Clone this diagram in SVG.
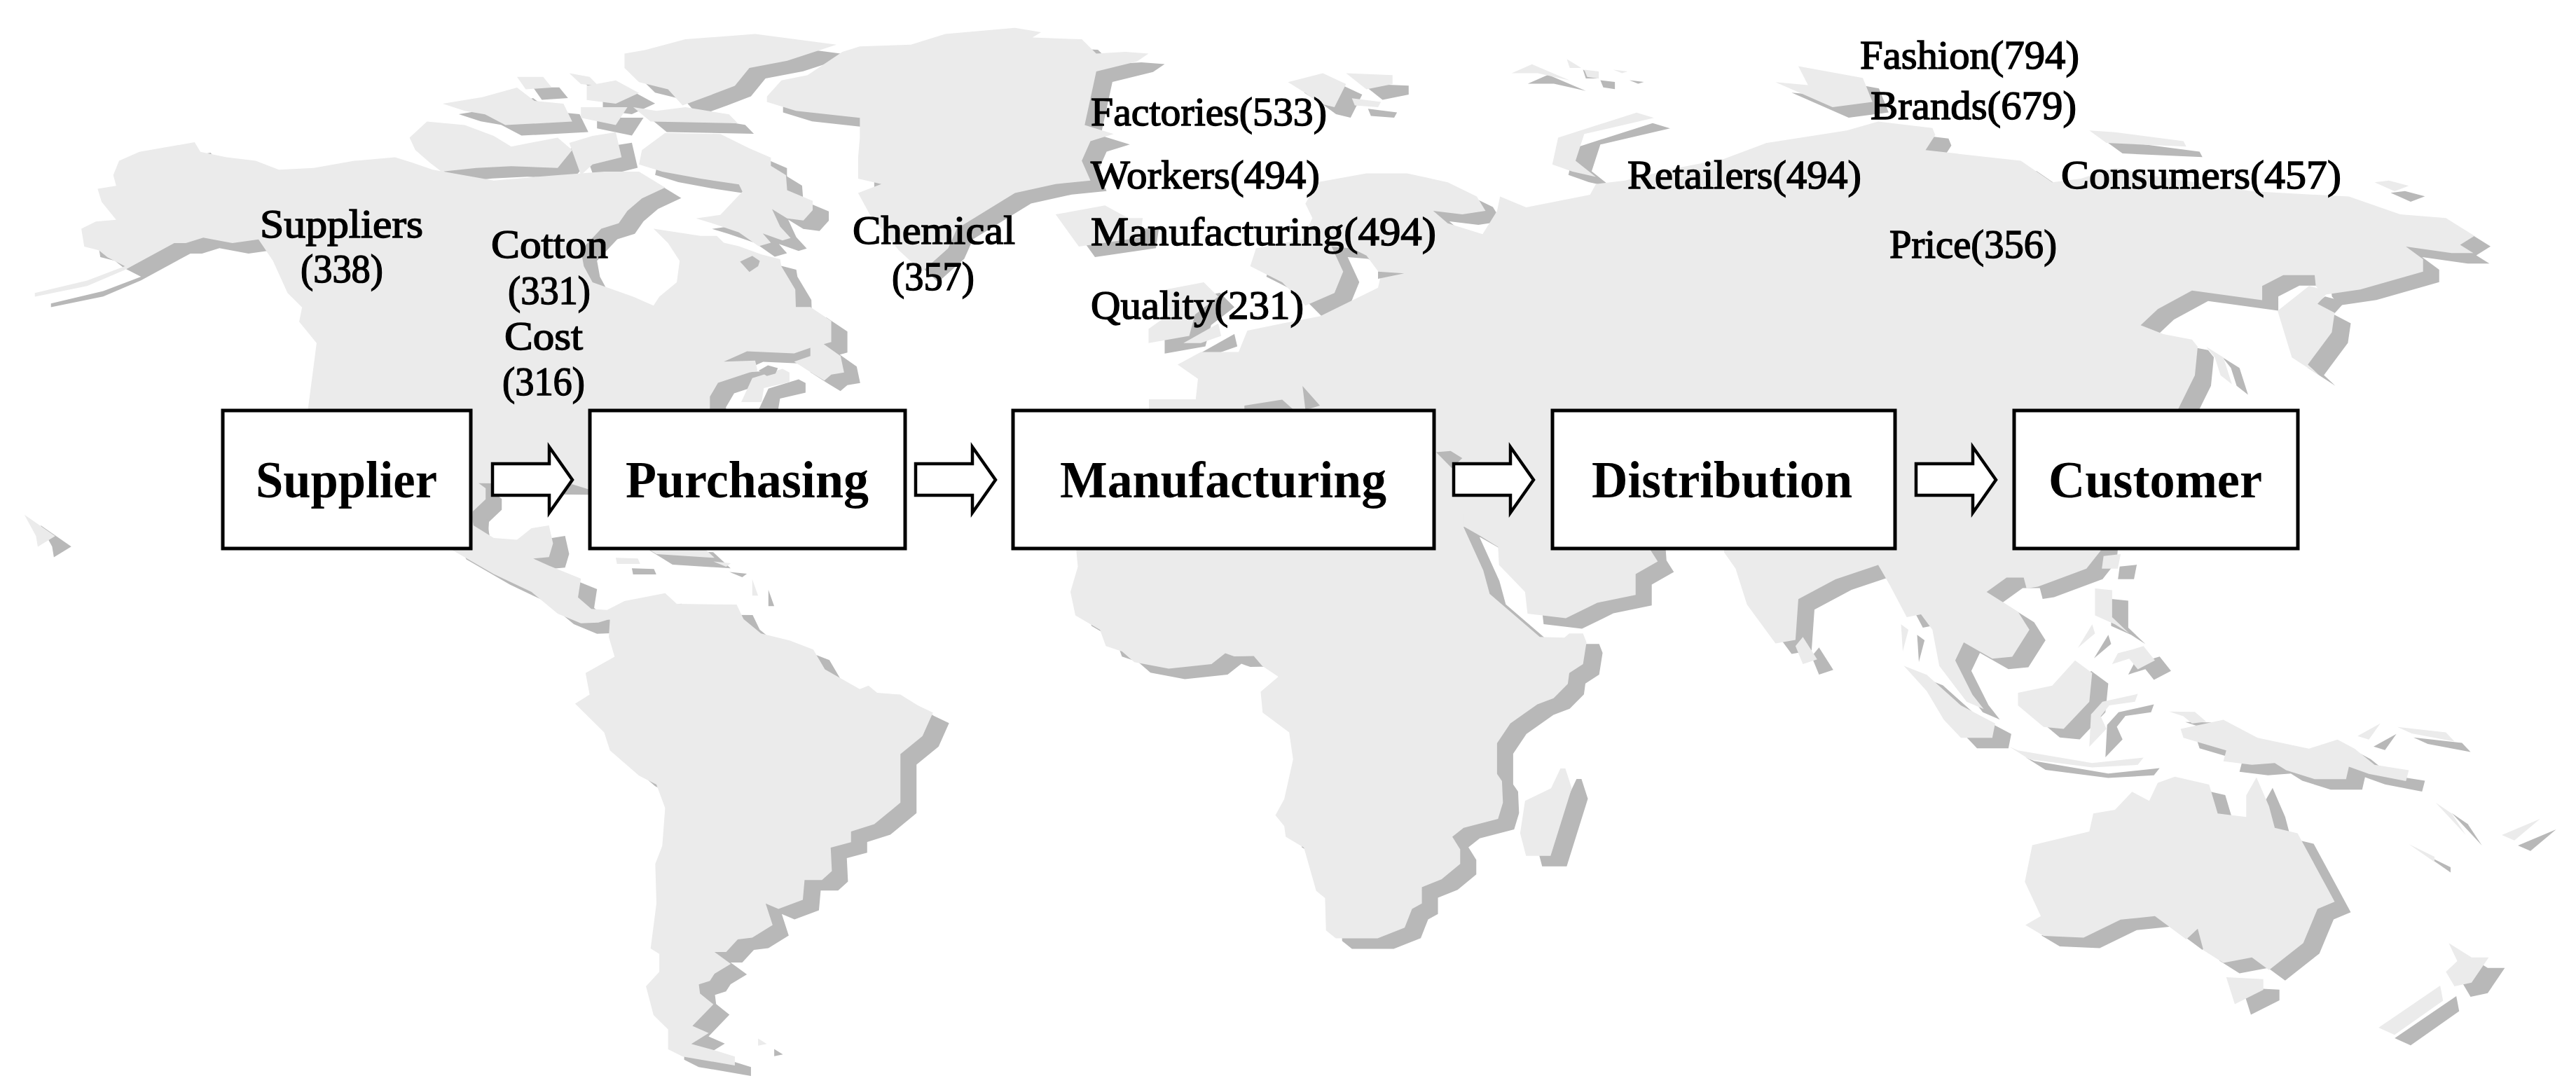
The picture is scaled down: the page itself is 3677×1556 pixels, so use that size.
<svg xmlns="http://www.w3.org/2000/svg" xmlns:xlink="http://www.w3.org/1999/xlink" width="3677" height="1556" viewBox="0 0 3677 1556">
<style>
.shadow{fill:#b8b8b8}
.earth{fill:#ebebeb}
.box{fill:#fff;stroke:#000;stroke-width:5}
.arrow{fill:#fff;stroke:#000;stroke-width:4.5}
.big{font-family:"Liberation Serif",serif;font-weight:700;font-size:74px;fill:#000}
.small{font-family:"Liberation Serif",serif;font-weight:400;font-size:58px;fill:#000;stroke:#000;stroke-width:1.5}
</style>
<defs>
<g id="land">
<g transform="scale(.8292,.5102)">
<polygon points="140,640 165,620 200,615 175,565 168,528 200,520 195,490 205,450 240,425 335,398 345,425 390,440 440,450 480,475 540,470 610,450 680,440 710,455 745,475 850,505 960,490 1040,480 1100,480 1145,525 1105,555 1080,590 1065,625 1035,640 1000,700 1005,745 1020,790 1090,830 1125,855 1135,830 1165,790 1170,730 1150,680 1125,640 1206,660 1234,660 1246,679 1272,689 1311,712 1343,725 1345,745 1369,810 1370,859 1395,859 1431,898 1431,957 1418,963 1447,996 1453,1042 1431,1048 1419,1065 1399,1045 1367,1012 1395,996 1395,973 1367,989 1286,983 1246,1012 1300,1009 1304,1038 1290,1042 1236,1071 1222,1110 1222,1370 1015,1370 985,1355 824,1352 836,1366 836,1397 814,1431 812,1484 810,1500 650,1500 530,1147 545,960 515,900 520,860 495,820 470,730 445,670 400,680 350,665 320,680 300,680 215,755 150,800 60,830 60,820 150,785 215,745 185,720 170,700 145,690"/>
<polygon points="1276,1125 1295,1058 1347,1032 1359,1042 1359,1069 1315,1086 1311,1125"/>
<polygon points="1075,150 1110,140 1180,110 1300,95 1440,125 1355,170 1290,190 1265,240 1225,265 1175,295 1150,250 1100,230 1075,190"/>
<polygon points="1090,300 1130,310 1180,300 1255,320 1270,345 1120,340"/>
<polygon points="1105,420 1145,372 1240,375 1290,415 1327,441 1327,464 1353,490 1355,532 1399,562 1399,588 1383,617 1355,611 1329,585 1343,634 1361,666 1347,673 1313,653 1327,679 1306,689 1272,650 1226,625 1198,611 1240,601 1278,536 1272,516 1206,500 1140,480 1100,460"/>
<polygon points="705,385 735,340 800,350 850,380 880,410 960,385 985,420 960,470 880,465 820,470 760,480 740,455 715,420"/>
<polygon points="762,290 830,272 890,245 920,282 970,290 985,340 870,350 835,320 800,310"/>
<polygon points="890,215 935,215 950,245 905,250"/>
<polygon points="1010,240 1060,225 1100,260 1060,290 1010,280"/>
<polygon points="980,205 1015,215 1030,240 1000,235"/>
<polygon points="1000,300 1080,300 1060,350 1000,330"/>
<polygon points="980,400 1020,380 1060,370 1070,440 1020,460 1000,490"/>
<polygon points="42,1440 95,1500 65,1530 62,1500"/>
</g>
<g transform="translate(1200,0) scale(.8292,.5102)">
<polygon points="-127,285 -127,270 -102,225 -57,210 3,145 33,130 121,125 180,95 300,78 345,90 330,105 415,110 440,150 490,145 530,150 510,172 440,200 420,350 470,375 430,395 415,450 430,505 370,515 300,540 250,590 200,640 185,695 140,760 100,700 50,600 30,540 70,515 30,500 30,440 33,385 33,330 -77,310"/>
<polygon points="370,600 455,575 495,610 520,610 515,665 410,690"/>
<polygon points="560,810 625,790 650,830 610,880 600,940 530,960 530,920 565,880"/>
<polygon points="590,960 650,905 655,940 620,960"/>
<polygon points="770,230 830,205 870,235 850,300 825,290 800,260"/>
<polygon points="870,205 950,210 950,235 905,250"/>
<polygon points="880,275 930,285 925,300 885,295"/>
<polygon points="1155,205 1190,180 1255,225 1200,205"/>
<polygon points="1250,165 1275,190 1255,190"/>
<polygon points="1280,195 1305,200 1305,220 1285,215"/>
<polygon points="1330,195 1355,200 1345,205"/>
<polygon points="1225,460 1235,385 1370,315 1400,330 1280,375 1265,450 1300,495 1260,480"/>
<polygon points="520,1147 610,1135 615,1060 580,1020 620,985 685,985 700,925 760,905 825,885 925,805 930,770 905,715 880,695 845,690 865,760 850,820 800,855 760,790 705,745 715,695 795,670 812,610 800,570 820,510 905,485 975,485 1045,510 1095,550 1110,590 1070,600 1020,590 1045,625 1105,655 1130,590 1135,550 1180,580 1290,545 1300,515 1350,505 1440,470 1520,445 1594,400 1640,400 1640,1147"/>
</g>
<g transform="translate(2400,0) scale(.8144,.5102)">
<polygon points="100,440 150,400 170,395 290,365 345,340 440,358 445,378 428,420 595,450 650,510 700,500 760,470 820,490 1000,535 1170,550 1260,600 1340,610 1390,660 1365,685 1388,708 1350,708 1270,690 1300,725 1300,760 1190,810 1125,825 1112,800 1110,770 1055,770 1018,800 1018,840 895,813 835,865 805,910 845,935 895,950 905,970 900,1050 870,1147 860,1170 100,1170"/>
<polygon points="1045,870 1100,800 1135,815 1115,850 1145,875 1140,930 1098,1020 1118,1050 1070,1000"/>
<polygon points="920,970 950,1000 965,1075 945,1050 935,1000"/>
<polygon points="165,230 222,238 205,185 318,218 335,285 265,300"/>
<polygon points="715,365 760,370 880,395 885,410 745,400"/>
<polygon points="1215,510 1240,505 1275,520 1250,535"/>
</g>
<rect x="1640" y="570" width="1310" height="182"/>
<g transform="translate(0,750) scale(.8292,.5140)">
<polygon points="740,-50 810,-50 815,0 850,35 890,40 915,8 945,0 952,50 945,88 918,92 945,112 1000,148 995,200 1018,232 1045,235 1075,210 1145,188 1165,218 1268,220 1280,260 1310,300 1360,320 1400,345 1420,400 1480,455 1495,445 1510,465 1550,470 1580,500 1606,520 1588,585 1550,635 1550,770 1505,830 1465,850 1465,880 1430,895 1432,960 1415,985 1385,985 1382,1040 1340,1065 1318,1050 1330,1110 1295,1145 1270,1150 1250,1185 1230,1185 1258,1218 1230,1245 1222,1265 1203,1275 1205,1300 1228,1330 1192,1390 1220,1410 1190,1440 1235,1460 1265,1475 1265,1500 1175,1475 1150,1455 1150,1400 1125,1360 1112,1280 1135,1240 1135,1190 1120,1175 1130,1050 1128,940 1140,890 1145,785 1130,720 1100,695 1050,625 1040,575 990,495 1015,470 1008,410 1058,365 1048,310 1050,260 1030,270 1000,272 960,245 915,185 850,135 775,65"/>
<polygon points="1090,40 1200,45 1230,90 1130,80"/>
<polygon points="1060,90 1098,92 1102,107 1062,107"/>
<polygon points="1228,100 1258,105 1250,115"/>
<polygon points="1295,150 1305,195 1295,195"/>
<polygon points="1305,1425 1320,1440 1305,1445"/>
</g>
<g transform="translate(1300,750) scale(.7015,.5140)">
<polygon points="330,-30 340,115 325,185 335,250 385,290 397,335 430,350 455,380 525,398 612,385 640,355 658,364 698,363 715,390 748,420 712,462 716,520 770,575 778,650 760,760 742,805 760,835 763,865 800,895 825,1015 843,1035 845,1125 865,1147 950,1147 1005,1117 1020,1065 1040,1050 1040,1005 1080,983 1118,940 1118,900 1102,865 1125,840 1195,815 1205,770 1203,710 1193,690 1193,605 1220,550 1275,497 1308,480 1337,440 1340,410 1368,385 1375,325 1368,300 1340,300 1330,312 1280,310 1178,190 1165,125 1125,5 1125,-30"/>
<polygon points="1125,3 1160,30 1195,60 1197,110 1250,185 1255,245 1333,258 1397,215 1475,193 1475,135 1520,100 1505,68 1500,-30 1150,-30"/>
<polygon points="1250,765 1303,730 1322,675 1332,675 1345,730 1302,918 1252,918 1240,855"/>
</g>
<g transform="translate(2400,750) scale(.8144,.5140)">
<polygon points="75,-30 75,75 95,120 115,220 165,328 200,318 205,205 270,150 345,110 365,165 395,255 420,247 440,290 452,390 500,490 530,510 510,470 480,375 495,325 545,370 580,365 610,290 590,240 535,185 570,145 600,145 605,175 625,170 710,120 735,70 740,-30"/>
<polygon points="200,335 213,310 238,372 213,385"/>
<polygon points="385,275 398,290 388,350"/>
<polygon points="390,390 430,415 490,500 550,550 545,590 490,590 460,540 430,460"/>
<polygon points="770,80 740,85 737,120 765,120"/>
<polygon points="725,175 755,180 755,255 785,300 760,275 725,250"/>
<polygon points="695,340 720,275 725,300"/>
<polygon points="755,385 765,355 790,345 810,335 830,375 800,400 785,370"/>
<polygon points="590,465 650,445 690,375 720,410 715,490 670,565 635,560 590,500"/>
<polygon points="715,615 718,525 738,490 800,468 795,490 750,500 735,530 745,565"/>
<polygon points="575,615 590,625 720,660 810,645 800,665 720,672 610,650"/>
<polygon points="875,565 950,540 1010,590 1100,620 1150,595 1180,620 1215,665 1275,680 1270,710 1205,690 1170,670 1165,705 1110,705 1060,680 1040,660 1000,665 950,655 955,625 880,590"/>
<polygon points="855,517 900,518 920,545 895,550 880,530"/>
<polygon points="1185,585 1225,550 1205,595"/>
<polygon points="1255,560 1340,575 1355,600 1280,578"/>
<polygon points="1322,770 1350,800 1375,860"/>
<polygon points="1438,860 1505,815 1460,875"/>
<polygon points="1275,885 1320,920 1320,935"/>
<polygon points="615,888 715,850 722,800 760,790 790,740 820,765 835,715 865,698 925,720 940,800 990,810 990,750 1008,700 1030,780 1040,840 1080,855 1145,1045 1115,1065 1090,1160 1030,1235 1000,1200 950,1215 915,1180 905,1120 885,1150 830,1085 770,1095 705,1145 635,1140 603,1110 630,1085 602,990"/>
<polygon points="955,1255 1020,1260 1020,1290 970,1330"/>
<polygon points="1222,1395 1330,1278 1335,1320 1250,1415"/>
<polygon points="1345,1160 1385,1200 1415,1200 1385,1270 1355,1280 1340,1240 1360,1210"/>
</g>
</g>
<path id="arrow" class="arrow" d="M0,24 H81 V0 L114,47 81,94 V69 H0 Z"/>
</defs>
<g id="map">
<use href="#land" class="shadow" transform="translate(23,15)"/>
<use href="#land" class="earth"/>
<g class="shadow" transform="translate(1200,0) scale(.8292,.5102)">
<polygon points="795,1080 825,1135 800,1147"/>
<polygon points="695,1135 760,1118 780,1147 695,1147"/>
<polygon points="1025,1265 1050,1262 1070,1282 1052,1310"/>
<polygon points="925,760 970,765 925,780"/>
</g>
<g class="shadow" transform="scale(.8292,.5102)">
<polygon points="1274,732 1295,716 1308,730 1305,745 1290,761"/>
<polygon points="1306,1037 1322,1022 1339,1030 1335,1045 1320,1052"/>
</g>
</g>
<g id="connectors">
<use href="#arrow" x="703" y="638"/>
<use href="#arrow" x="1307" y="638"/>
<use href="#arrow" x="2075" y="638"/>
<use href="#arrow" x="2735" y="638"/>
</g>
<g id="node-supplier"><rect class="box" x="318" y="586" width="354" height="197"/><text class="big" x="365" y="710" textLength="259" lengthAdjust="spacingAndGlyphs">Supplier</text></g>
<g id="node-purchasing"><rect class="box" x="842" y="586" width="450" height="197"/><text class="big" x="893" y="710" textLength="347" lengthAdjust="spacingAndGlyphs">Purchasing</text></g>
<g id="node-manufacturing"><rect class="box" x="1446" y="586" width="601" height="197"/><text class="big" x="1513" y="710" textLength="466" lengthAdjust="spacingAndGlyphs">Manufacturing</text></g>
<g id="node-distribution"><rect class="box" x="2216" y="586" width="489" height="197"/><text class="big" x="2272" y="710" textLength="372" lengthAdjust="spacingAndGlyphs">Distribution</text></g>
<g id="node-customer"><rect class="box" x="2875" y="586" width="405" height="197"/><text class="big" x="2924" y="710" textLength="305" lengthAdjust="spacingAndGlyphs">Customer</text></g>
<g id="labels">
<text class="small" x="371" y="339" textLength="233" lengthAdjust="spacingAndGlyphs">Suppliers</text>
<text class="small" x="429" y="403" textLength="118" lengthAdjust="spacingAndGlyphs">(338)</text>
<text class="small" x="701" y="368" textLength="167" lengthAdjust="spacingAndGlyphs">Cotton</text>
<text class="small" x="725" y="434" textLength="118" lengthAdjust="spacingAndGlyphs">(331)</text>
<text class="small" x="720" y="499" textLength="112" lengthAdjust="spacingAndGlyphs">Cost</text>
<text class="small" x="717" y="564" textLength="118" lengthAdjust="spacingAndGlyphs">(316)</text>
<text class="small" x="1217" y="348" textLength="232" lengthAdjust="spacingAndGlyphs">Chemical</text>
<text class="small" x="1273" y="414" textLength="118" lengthAdjust="spacingAndGlyphs">(357)</text>
<text class="small" x="1557" y="179" textLength="337" lengthAdjust="spacingAndGlyphs">Factories(533)</text>
<text class="small" x="1557" y="269" textLength="327" lengthAdjust="spacingAndGlyphs">Workers(494)</text>
<text class="small" x="1557" y="350" textLength="493" lengthAdjust="spacingAndGlyphs">Manufacturing(494)</text>
<text class="small" x="1557" y="455" textLength="304" lengthAdjust="spacingAndGlyphs">Quality(231)</text>
<text class="small" x="2323" y="269" textLength="334" lengthAdjust="spacingAndGlyphs">Retailers(494)</text>
<text class="small" x="2655" y="98" textLength="313" lengthAdjust="spacingAndGlyphs">Fashion(794)</text>
<text class="small" x="2670" y="170" textLength="294" lengthAdjust="spacingAndGlyphs">Brands(679)</text>
<text class="small" x="2942" y="269" textLength="400" lengthAdjust="spacingAndGlyphs">Consumers(457)</text>
<text class="small" x="2697" y="368" textLength="239" lengthAdjust="spacingAndGlyphs">Price(356)</text>
</g>
</svg>
